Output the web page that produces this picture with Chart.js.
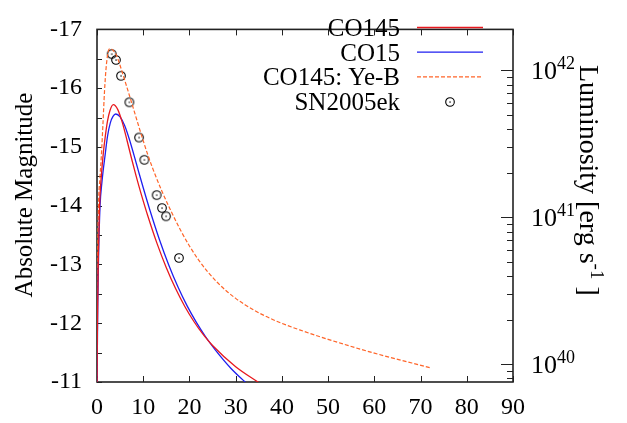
<!DOCTYPE html>
<html>
<head>
<meta charset="utf-8">
<script src="https://cdn.jsdelivr.net/npm/chart.js@4.4.1/dist/chart.umd.min.js"></script>
<style>
  html, body { margin: 0; padding: 0; background: #fff; }
</style>
</head>
<body>
<canvas id="lc" width="627" height="423"></canvas>
<script>
// days after explosion / absolute magnitude
var tCO145 = [0, 0.06, 0.15, 0.30, 0.54, 0.87, 1.36, 1.84, 2.27, 2.81, 3.53, 4.5, 5.5, 6.5, 7.5, 8.5, 9.5, 11, 13, 15, 17, 19, 21, 23, 25, 30, 35];
var magCO145 = [-11.0, -11.68, -12.32, -13.17, -13.98, -14.44, -14.89, -15.21, -15.44, -15.62, -15.72, -15.635, -15.41, -15.11, -14.795, -14.495, -14.215, -13.825, -13.355, -12.945, -12.59, -12.285, -12.025, -11.805, -11.62, -11.26, -10.99];

var tCO15 = [0, 0.09, 0.17, 0.35, 0.65, 1.08, 1.80, 2.27, 2.88, 3.46, 4.05, 5, 6, 7, 8, 9, 10, 11.5, 13.5, 15.5, 17.5, 19.5, 21.5, 23.5, 25.5, 29, 33];
var magCO15 = [-11.0, -11.68, -12.32, -13.17, -13.98, -14.41, -14.89, -15.18, -15.41, -15.52, -15.56, -15.51, -15.36, -15.13, -14.86, -14.58, -14.305, -13.91, -13.425, -12.995, -12.62, -12.295, -12.015, -11.77, -11.555, -11.23, -10.93];

var tYeB = [0, 0.06, 0.13, 0.32, 0.65, 0.97, 1.30, 1.62, 2.06, 2.7, 3.25, 4, 4.5, 5, 6, 7, 8, 9, 10, 11, 12, 14, 16, 18, 20, 22, 24, 26, 28, 30, 32, 34, 36, 38, 40, 44, 50, 60, 72.26];
var magYeB = [-11.0, -11.84, -12.96, -13.98, -14.49, -14.89, -15.41, -15.94, -16.42, -16.67, -16.66, -16.59, -16.50, -16.385, -16.135, -15.88, -15.62, -15.36, -15.105, -14.865, -14.645, -14.255, -13.91, -13.595, -13.315, -13.075, -12.871, -12.697, -12.549, -12.423, -12.315, -12.221, -12.138, -12.064, -11.998, -11.882, -11.726, -11.491, -11.24];

var tObs = [3.18, 4.11, 5.19, 7.0, 9.09, 10.24, 12.91, 14.06, 14.93, 17.74];
var magObs = [-16.58, -16.48, -16.21, -15.76, -15.16, -14.78, -14.18, -13.96, -13.82, -13.11];

var dayTicks = [0, 10, 20, 30, 40, 50, 60, 70, 80, 90];
var magTicks = [-17, -16.5, -16, -15.5, -15, -14.5, -14, -13.5, -13, -12.5, -12, -11.5, -11];
var lumDecades = [1e39, 1e40, 1e41, 1e42];
var lumExpLabels = ['40', '41', '42'];

var MBOL0 = 88.697;   // M = MBOL0 - 2.5 log L
function magToLum(m) { return Math.pow(10, (MBOL0 - m) / 2.5); }

function pts(ts, ms) { return ts.map(function (t, i) { return {x: t, y: ms[i]}; }); }

var lumMin = magToLum(-11), lumMax = magToLum(-17);
var lumTicks = [];
lumDecades.forEach(function (d) {
  for (var k = 1; k <= 9; k++) {
    var v = d * k;
    if (v >= lumMin && v <= lumMax) lumTicks.push(v);
  }
});

var FONT = "'Liberation Serif', 'DejaVu Serif', serif";

// open circle with a dot, like the gnuplot symbol
var obsMark = document.createElement('canvas');
obsMark.width = 12; obsMark.height = 12;
var mc = obsMark.getContext('2d');
mc.strokeStyle = '#000'; mc.lineWidth = 1.1;
mc.beginPath(); mc.arc(6, 6, 4.3, 0, Math.PI * 2); mc.stroke();
mc.fillStyle = '#000'; mc.fillRect(5.4, 5.4, 1.3, 1.3);

var framePlugin = {
  id: 'frame',
  beforeDatasetsDraw: function (chart) {
    var c = chart.ctx, a = chart.chartArea;
    var sx = chart.scales.x, sy = chart.scales.y, sl = chart.scales.y2;
    c.save();
    c.strokeStyle = '#222';
    c.lineWidth = 1;
    c.beginPath();
    sx.ticks.forEach(function (t) {
      var px = Math.round(sx.getPixelForValue(t.value)) + 0.5;
      c.moveTo(px, a.bottom); c.lineTo(px, a.bottom - 6);
      c.moveTo(px, a.top); c.lineTo(px, a.top + 6);
    });
    sy.ticks.forEach(function (t) {
      var py = Math.round(sy.getPixelForValue(t.value)) + 0.5;
      c.moveTo(a.left, py); c.lineTo(a.left + 5, py);
    });
    sl.ticks.forEach(function (t) {
      var py = Math.round(sl.getPixelForValue(t.value)) + 0.5;
      var major = lumDecades.indexOf(t.value) >= 0;
      c.moveTo(a.right, py); c.lineTo(a.right - (major ? 12 : 6), py);
    });
    c.stroke();
    c.lineWidth = 1.6;
    c.strokeRect(a.left, a.top, a.right - a.left, a.bottom - a.top);
    c.restore();
  },
  afterDraw: function (chart) {
    var c = chart.ctx, sl = chart.scales.y2;
    c.save();
    c.fillStyle = '#000';

    // right axis labels 10^n
    c.textAlign = 'left';
    c.textBaseline = 'alphabetic';
    lumDecades.slice(1).forEach(function (d, i) {
      var py = sl.getPixelForValue(d);
      c.font = '26px ' + FONT;
      c.fillText('10', 531, py + 9);
      var w = c.measureText('10').width;
      c.font = '18px ' + FONT;
      c.fillText(lumExpLabels[i], 531 + w, py - 1);
    });

    // left title
    c.save();
    c.translate(25, 195);
    c.rotate(-Math.PI / 2);
    c.textAlign = 'center';
    c.textBaseline = 'middle';
    c.font = '25px ' + FONT;
    c.fillText('Absolute Magnitude', 0, 0);
    c.restore();

    // right title
    c.save();
    c.translate(580, 65);
    c.rotate(Math.PI / 2);
    c.textAlign = 'left';
    c.textBaseline = 'alphabetic';
    c.font = '28px ' + FONT;
    var t1 = 'Luminosity [erg s';
    c.fillText(t1, 0, 0);
    var w1 = c.measureText(t1).width;
    c.font = '19px ' + FONT;
    c.fillText('-1', w1, -11);
    var w2 = c.measureText('-1').width;
    c.font = '28px ' + FONT;
    c.fillText(' ]', w1 + w2, 0);
    c.restore();

    // key
    c.textAlign = 'right';
    c.font = '25px ' + FONT;
    chart.data.datasets.forEach(function (ds, i) {
      var base = 36 + i * 24.7;
      c.fillText(ds.label, 400, base);
      var ly = base - 8.5;
      if (ds.showLine === false) {
        c.drawImage(obsMark, 444, Math.round(ly) - 6);
      } else {
        c.save();
        c.strokeStyle = ds.borderColor;
        c.lineWidth = ds.borderWidth;
        c.setLineDash(ds.borderDash || []);
        c.beginPath();
        c.moveTo(417, ly); c.lineTo(483, ly);
        c.stroke();
        c.restore();
      }
    });
    c.restore();
  }
};

new Chart(document.getElementById('lc'), {
  type: 'line',
  data: {
    datasets: [
      {
        label: 'CO145',
        data: pts(tCO145, magCO145),
        borderColor: '#e8191e',
        borderWidth: 1.3,
        pointRadius: 0,
        cubicInterpolationMode: 'monotone'
      },
      {
        label: 'CO15',
        data: pts(tCO15, magCO15),
        borderColor: '#1e1ef0',
        borderWidth: 1.3,
        pointRadius: 0,
        cubicInterpolationMode: 'monotone'
      },
      {
        label: 'CO145: Ye-B',
        data: pts(tYeB, magYeB),
        borderColor: '#ff6428',
        borderWidth: 1.2,
        borderDash: [4, 2],
        pointRadius: 0,
        cubicInterpolationMode: 'monotone'
      },
      {
        label: 'SN2005ek',
        data: pts(tObs, magObs),
        showLine: false,
        pointStyle: obsMark,
        pointRadius: 6
      }
    ]
  },
  options: {
    responsive: false,
    animation: false,
    layout: { padding: { top: 9, left: 0, right: 0, bottom: 0 } },
    plugins: { legend: { display: false }, tooltip: { enabled: false } },
    scales: {
      x: {
        type: 'linear',
        min: 0, max: 90,
        grid: { display: false, drawTicks: false },
        border: { display: false },
        afterBuildTicks: function (s) { s.ticks = dayTicks.map(function (v) { return {value: v}; }); },
        ticks: {
          color: '#000', padding: 11, maxRotation: 0, autoSkip: false,
          font: { family: FONT, size: 24 }
        },
        afterFit: function (s) { s.height = 41; }
      },
      y: {
        type: 'linear',
        position: 'left',
        reverse: true,
        min: -17, max: -11,
        grid: { display: false, drawTicks: false },
        border: { display: false },
        afterBuildTicks: function (s) { s.ticks = magTicks.map(function (v) { return {value: v}; }); },
        ticks: {
          color: '#000', padding: 15, autoSkip: false,
          font: { family: FONT, size: 24 },
          callback: function (v) { return Number.isInteger(v) ? String(v) : ''; }
        },
        afterFit: function (s) { s.width = 97; }
      },
      y2: {
        type: 'logarithmic',
        position: 'right',
        min: lumMin, max: lumMax,
        grid: { display: false, drawTicks: false },
        border: { display: false },
        afterBuildTicks: function (s) { s.ticks = lumTicks.map(function (v) { return {value: v}; }); },
        ticks: { display: false },
        afterFit: function (s) { s.width = 114; }
      }
    }
  },
  plugins: [framePlugin]
});
</script>
</body>
</html>
